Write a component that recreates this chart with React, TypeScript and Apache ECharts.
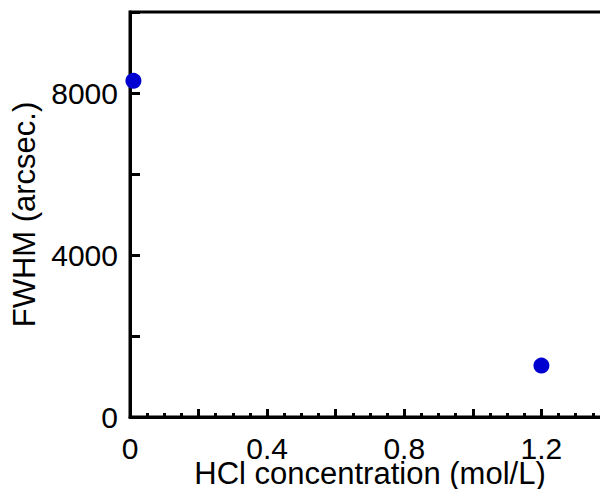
import React, { useEffect, useRef } from "react";
import * as echarts from "echarts";

const hclConcentration = [0.01, 1.2];
const fwhmValues = [8300, 1270];
const xLabelValues = [0, 0.4, 0.8, 1.2];
const yLabelValues = [0, 4000, 8000];

export default function App() {
  const ref = useRef<HTMLDivElement>(null);
  useEffect(() => {
    if (!ref.current) return;
    const chart = echarts.init(ref.current, undefined, { renderer: "svg" });
    const font = "'Liberation Sans', Arial, sans-serif";
    chart.setOption({
      animation: false,
      backgroundColor: "#ffffff",
      grid: {
        left: 130,
        top: 12,
        bottom: 72,
        right: -10,
        outerBoundsMode: "none",
        containLabel: false,
        show: true,
        borderColor: "#000",
        borderWidth: 3,
      },
      xAxis: {
        type: "value",
        min: 0,
        max: 1.4,
        interval: 0.2,
        name: "HCl concentration (mol/L)",
        nameLocation: "middle",
        nameGap: 41,
        nameMoveOverlap: false,
        nameTextStyle: { fontFamily: font, fontSize: 31, color: "#000" },
        axisLine: { show: true, onZero: false, lineStyle: { color: "#000", width: 3 } },
        axisTick: { show: true, inside: true, length: 8, lineStyle: { color: "#000", width: 3 } },
        minorTick: { show: true, splitNumber: 4, length: 4, lineStyle: { color: "#000", width: 3 } },
        splitLine: { show: false },
        axisLabel: {
          fontFamily: font,
          fontSize: 30,
          color: "#000",
          margin: 16,
          showMaxLabel: false,
          formatter: (v: number) => {
            const hit = xLabelValues.find((x) => Math.abs(x - v) < 1e-6);
            return hit === undefined ? "" : String(hit);
          },
        },
      },
      yAxis: {
        type: "value",
        min: 0,
        max: 10000,
        interval: 2000,
        name: "FWHM (arcsec.)",
        nameLocation: "middle",
        nameGap: 90,
        nameMoveOverlap: false,
        nameTextStyle: { fontFamily: font, fontSize: 31, color: "#000" },
        axisLine: { show: true, onZero: false, lineStyle: { color: "#000", width: 3 } },
        axisTick: { show: true, inside: true, length: 10, lineStyle: { color: "#000", width: 3 } },
        splitLine: { show: false },
        axisLabel: {
          fontFamily: font,
          fontSize: 30,
          color: "#000",
          margin: 12,
          formatter: (v: number) => (yLabelValues.includes(v) ? String(v) : ""),
        },
      },
      series: [
        {
          type: "scatter",
          clip: false,
          symbol: "circle",
          symbolSize: 16,
          itemStyle: { color: "#0000d0", opacity: 1 },
          data: hclConcentration.map((x, i) => [x, fwhmValues[i]]),
          z: 10,
        },
      ],
    });
    return () => chart.dispose();
  }, []);
  return <div ref={ref} style={{ width: 600, height: 489, position: "absolute", left: 0, top: 0 }} />;
}
